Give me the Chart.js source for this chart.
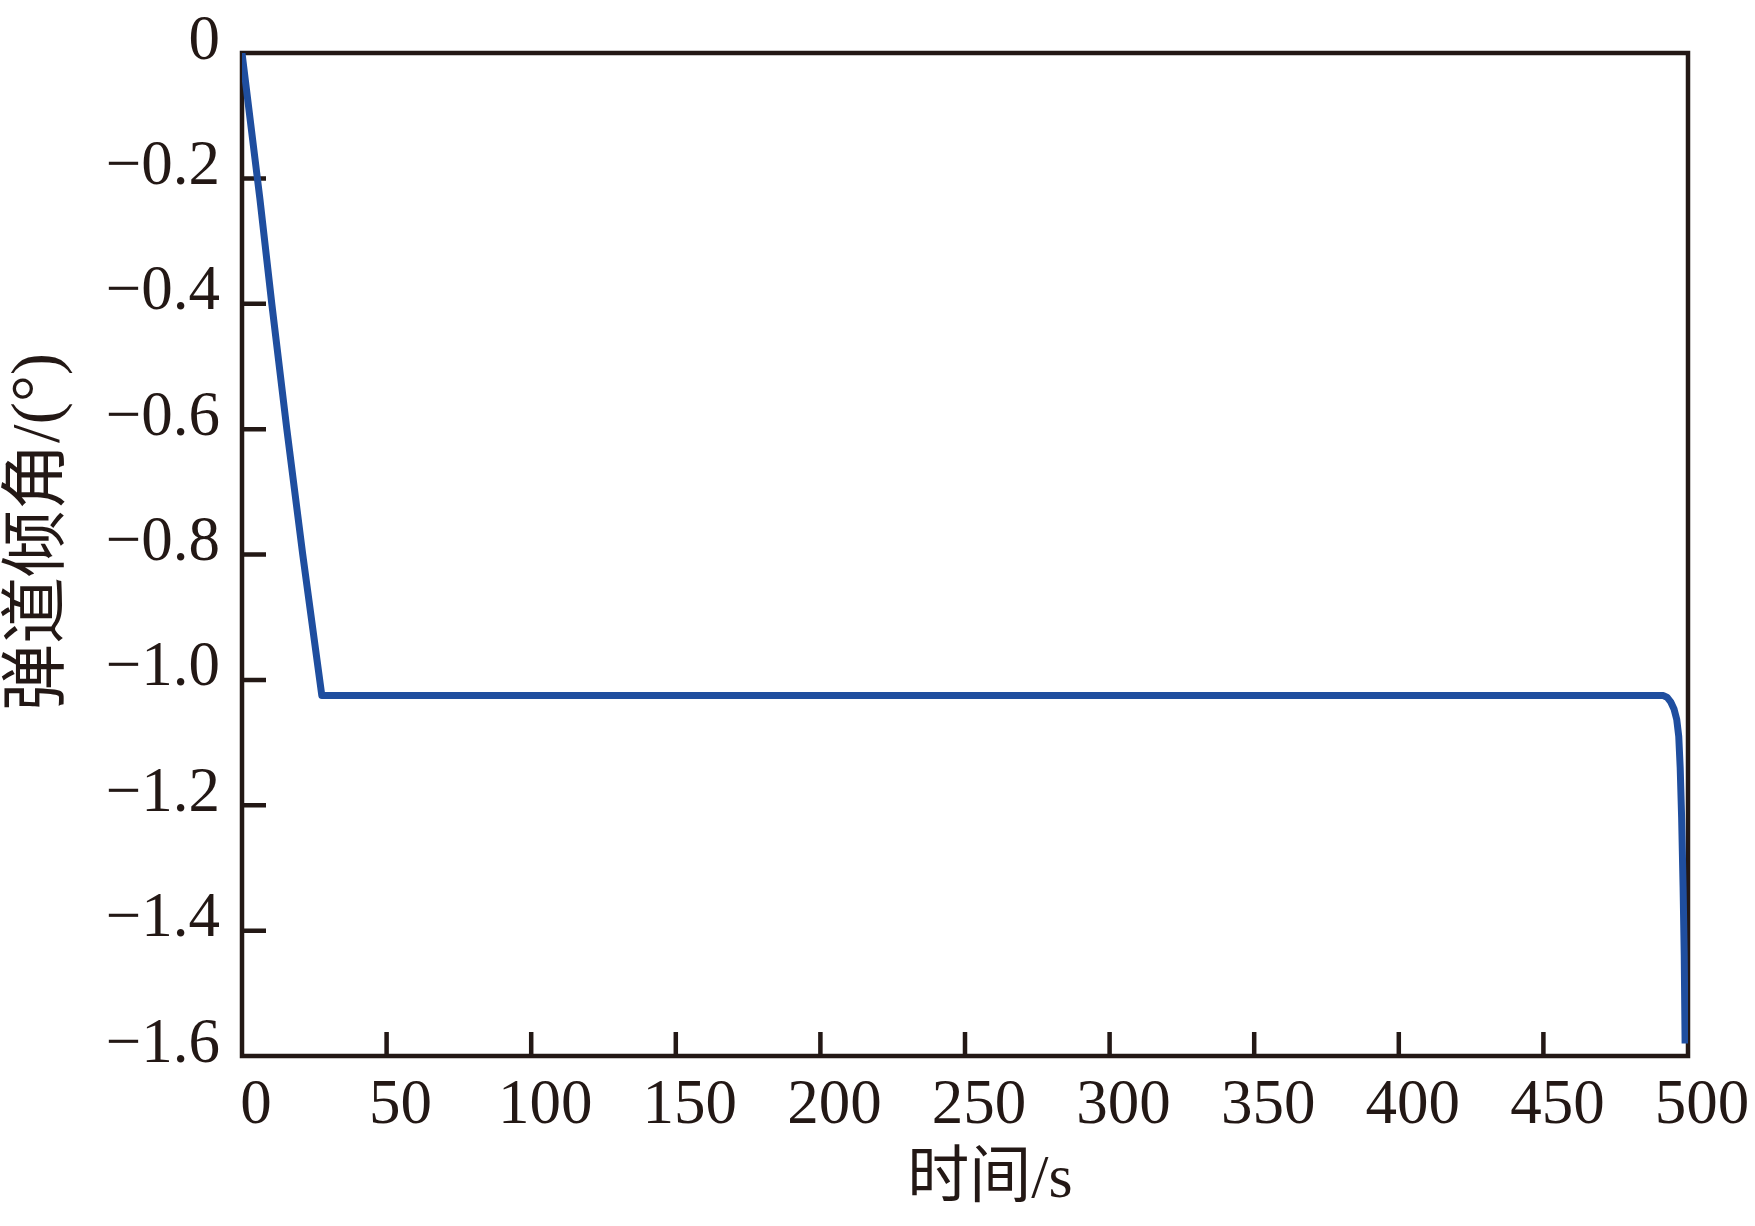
<!DOCTYPE html>
<html><head><meta charset="utf-8">
<style>html,body{margin:0;padding:0;background:#fff}#wrap{width:1755px;height:1226px}</style>
<script src="https://cdn.jsdelivr.net/npm/chart.js@4/dist/chart.umd.min.js"></script>
</head><body><div id="wrap"><canvas id="c" width="1755" height="1226"></canvas></div>
<script>
// time (s)
const timeValues = [0, 6.2, 10.3, 15.5, 21.0, 27.6, 100, 200, 300, 400, 491.5, 492.8, 494.0, 495.2, 496.1, 496.8, 497.3, 497.8, 498.3, 498.7, 499.0];
// flight path angle (deg)
const angleValues = [0, -0.233, -0.4, -0.6, -0.8, -1.025, -1.025, -1.025, -1.025, -1.025, -1.025, -1.028, -1.035, -1.047, -1.063, -1.09, -1.14, -1.22, -1.33, -1.44, -1.58];
const xTickValues = [0, 50, 100, 150, 200, 250, 300, 350, 400, 450, 500];
const yTickValues = [0, -0.2, -0.4, -0.6, -0.8, -1.0, -1.2, -1.4, -1.6];
const xTitle = '时间/s';
const yTitle = '弹道倾角/(°)';

const INK = '#231815';
const SERIF = '"Liberation Serif", "Times New Roman", "Noto Sans CJK SC", serif';

const framePlugin = {
  id: 'frame',
  beforeDatasetsDraw(chart) {
    const {ctx, chartArea: a, scales} = chart;
    ctx.save();
    ctx.strokeStyle = INK;
    ctx.lineWidth = 4.5;
    ctx.lineCap = 'square';
    ctx.strokeRect(a.left, a.top, a.right - a.left, a.bottom - a.top);
    ctx.beginPath();
    xTickValues.forEach(v => {
      const px = scales.x.getPixelForValue(v);
      if (v === xTickValues[0] || v === xTickValues[xTickValues.length - 1]) return;
      ctx.moveTo(px, a.bottom);
      ctx.lineTo(px, a.bottom - 24);
    });
    yTickValues.forEach(v => {
      const py = scales.y.getPixelForValue(v);
      if (v === yTickValues[0] || v === yTickValues[yTickValues.length - 1]) return;
      ctx.moveTo(a.left, py);
      ctx.lineTo(a.left + 24, py);
    });
    ctx.lineCap = 'butt';
    ctx.stroke();
    ctx.restore();
  },
  afterDraw(chart) {
    const {ctx} = chart;
    ctx.save();
    ctx.fillStyle = INK;
    ctx.textAlign = 'center';
    ctx.textBaseline = 'middle';
    ctx.font = '62px ' + SERIF;
    ctx.fillText(xTitle, 990, 1181);
    ctx.translate(40, 532);
    ctx.rotate(-Math.PI / 2);
    ctx.font = '67px ' + SERIF;
    ctx.fillText(yTitle, 0, 0);
    ctx.restore();
  }
};

new Chart(document.getElementById('c'), {
  type: 'line',
  data: {
    datasets: [{
      data: timeValues.map((t, i) => ({x: t, y: angleValues[i]})),
      borderColor: '#1f4e9f',
      borderWidth: 7,
      pointRadius: 0,
      tension: 0,
      borderJoinStyle: 'round',
      borderCapStyle: 'butt',
      fill: false
    }]
  },
  options: {
    responsive: false,
    animation: false,
    devicePixelRatio: 1,
    layout: {padding: {left: 0, top: 53, right: 67, bottom: 0}},
    plugins: {legend: {display: false}, tooltip: {enabled: false}},
    scales: {
      x: {
        type: 'linear',
        min: 0, max: 500,
        afterFit(s) { s.height = 170; s.paddingLeft = 0; s.paddingRight = 0; },
        afterBuildTicks(s) { s.ticks = xTickValues.map(v => ({value: v})); },
        grid: {display: false, drawTicks: false},
        border: {display: false},
        ticks: {
          color: INK,
          font: {family: SERIF, size: 63},
          padding: 13,
          labelOffset: 14,
          maxRotation: 0,
          autoSkip: false,
          callback: v => String(v)
        }
      },
      y: {
        type: 'linear',
        min: -1.6, max: 0,
        afterFit(s) { s.width = 242; s.paddingTop = 0; s.paddingBottom = 0; },
        afterBuildTicks(s) { s.ticks = yTickValues.map(v => ({value: v})); },
        grid: {display: false, drawTicks: false},
        border: {display: false},
        ticks: {
          color: INK,
          font: {family: SERIF, size: 63},
          padding: 22,
          labelOffset: -11,
          autoSkip: false,
          callback: v => (Math.abs(v) < 1e-9 ? '0' : '\u2212' + Math.abs(v).toFixed(1))
        }
      }
    }
  },
  plugins: [framePlugin]
});
</script>
</body></html>
